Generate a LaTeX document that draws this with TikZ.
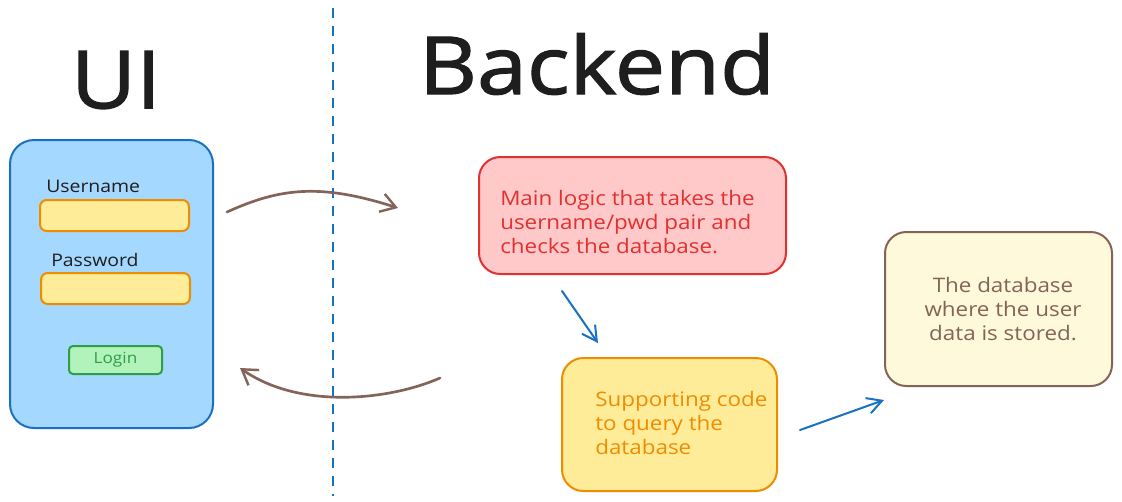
\documentclass[tikz,border=0pt]{standalone}
\usepackage{fontspec}
\setmainfont{Open Sans}
\newfontfamily\handfont[FakeStretch=1.12]{Open Sans}
\newfontfamily\titlefont[FakeStretch=1.12,FakeBold=1.6]{Open Sans}
\usetikzlibrary{arrows.meta}
\definecolor{uifill}{HTML}{A5D8FF}
\definecolor{uiborder}{HTML}{1971C2}
\definecolor{yfill}{HTML}{FFEC99}
\definecolor{yborder}{HTML}{F08C00}
\definecolor{gfill}{HTML}{B2F2BB}
\definecolor{gborder}{HTML}{2F9E44}
\definecolor{rfill}{HTML}{FFC9C9}
\definecolor{rborder}{HTML}{E03131}
\definecolor{cfill}{HTML}{FFF9DB}
\definecolor{brownink}{HTML}{846358}
\definecolor{ink}{HTML}{1E1E1E}
\begin{document}
\begin{tikzpicture}[x=0.75pt,y=-0.75pt,
  box/.style={draw, line width=1.5pt, rounded corners=#1, inner sep=0pt},
  box/.default=14pt,
  bodytext/.style={font=\handfont\fontsize{15}{18}\selectfont, inner sep=0pt},
  labeltext/.style={ink, font=\handfont\fontsize{13}{15}\selectfont, anchor=west, inner sep=0pt},
  brownarrow/.style={draw=brownink, line width=2pt, line cap=round,
    -{Straight Barb[length=11pt,width=14pt,line width=1.8pt]}},
  bluearrow/.style={draw=uiborder, line width=1.5pt, line cap=round,
    -{Straight Barb[length=11pt,width=12pt,line width=1.5pt]}}]
\useasboundingbox (0,0) rectangle (1122,501);
\fill[white] (0,0) rectangle (1122,501);

% divider
\coordinate (divtop) at (333,8);
\coordinate (divbot) at (333,496);
\draw[uiborder, line width=1.5pt, dash pattern=on 7.5pt off 6pt] (divtop) -- (divbot);

% titles
\node[ink, font=\titlefont\fontsize{60}{64}\selectfont, inner sep=0pt] (uititle) at (116,80) {UI};
\node[ink, font=\titlefont\fontsize{60}{64}\selectfont, inner sep=0pt] (betitle) at (597,64) {Backend};

% UI panel
\node[box=18pt, fill=uifill, draw=uiborder, minimum width=152.25pt, minimum height=216pt] (panel) at (111.5,284) {};
\node[labeltext] (ulabel) at (46,186) {Username};
\node[box=5pt, fill=yfill, draw=yborder, minimum width=111.75pt, minimum height=23.25pt] (uinput) at (114.5,215.5) {};
\node[labeltext] (plabel) at (51,260) {Password};
\node[box=5pt, fill=yfill, draw=yborder, minimum width=111.75pt, minimum height=23.25pt] (pinput) at (115.5,288.5) {};
\node[box=3pt, fill=gfill, draw=gborder, minimum width=69.75pt, minimum height=21pt,
  text=gborder, font=\handfont\fontsize{11.5}{13}\selectfont] (login) at (115.5,360) {Login};

% backend boxes
\node[box=16pt, fill=rfill, draw=rborder, minimum width=230.25pt, minimum height=87.75pt] (logic) at (632.5,215.5) {};
\node[bodytext, text=rborder, anchor=west, align=left] (logictext) at (500,222)
  {Main logic that takes the\\username/pwd pair and\\checks the database.};

\node[box=16pt, fill=yfill, draw=yborder, minimum width=161.25pt, minimum height=99.75pt] (support) at (669.5,424.5) {};
\node[bodytext, text=yborder, anchor=west, align=left] (supporttext) at (595,423)
  {Supporting code\\to query the\\database};

\node[box=16pt, fill=cfill, draw=brownink, minimum width=170.25pt, minimum height=115.5pt] (db) at (998.5,309) {};
\node[bodytext, text=brownink, align=center] (dbtext) at (1003,309)
  {The database\\where the user\\data is stored.};

% arrows
\coordinate (reqs) at (227,212);
\coordinate (reqe) at (398,208);
\draw[brownarrow] (reqs) .. controls (280,188) and (320,183) .. (reqe);
\coordinate (ress) at (440,378);
\coordinate (rese) at (240,368);
\draw[brownarrow] (ress) .. controls (390,400) and (300,410) .. (rese);

\coordinate (a1s) at (562,291);
\coordinate (a1e) at (598,343);
\draw[bluearrow] (a1s) -- (a1e);
\coordinate (a2s) at (800,430);
\coordinate (a2e) at (884,400);
\draw[bluearrow] (a2s) -- (a2e);
\end{tikzpicture}
\end{document}
